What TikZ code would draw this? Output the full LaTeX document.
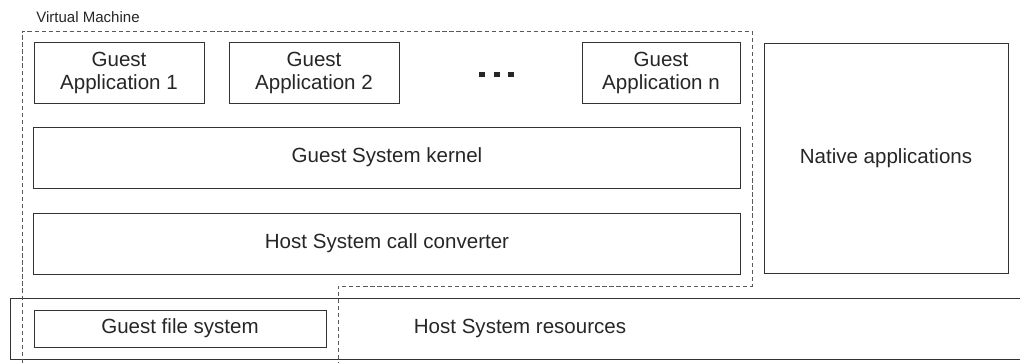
\documentclass[tikz,border=0pt]{standalone}
\usepackage{fontspec}
\setmainfont{Liberation Sans}
\usepackage{tikz}
\tikzstyle{layer} = [
  draw=black!80,
  line width=0.6pt,
  rectangle,
  inner sep=0pt,
  align=center,
  text=black!85,
  font=\fontsize{14.6}{16.4}\selectfont,
]
\tikzstyle{guestapp} = [
  layer,
  minimum width=4.25cm,
  minimum height=1.525cm,
]
\tikzstyle{vmline} = [
  draw=black!65,
  line width=0.6pt,
  dash pattern=on 3pt off 2pt,
]

\begin{document}
\begin{tikzpicture}[
    x=0.025cm,
    y=-0.025cm,
  ]
  \useasboundingbox (0,0) rectangle (1020,363);
  % guest applications
  \node[guestapp] (app1) at (119,72.5) {Guest\\Application 1};
  \node[guestapp] (app2) at (314,72.5) {Guest\\Application 2};
  \node[
    guestapp,
    minimum width=3.95cm,
  ] (appn) at (661,72.5) {Guest\\Application n};
  \foreach \i/\xx in {1/482,2/497,3/511}
    \node[fill=black!85, inner sep=0pt, minimum size=0.14cm]
      (dot\i) at (\xx,74.5) {};
  % guest layers
  \node[
    layer,
    minimum width=17.65cm,
    minimum height=1.525cm,
  ] (kernel) at (387,157.5) {Guest System kernel};
  \node[
    layer,
    minimum width=17.65cm,
    minimum height=1.525cm,
  ] (conv) at (387,243.5) {Host System call converter};
  \node[
    layer,
    minimum width=6.1cm,
    minimum height=5.75cm,
  ] (native) at (886,158) {Native applications};
  % host
  \draw[layer] (1020,298) -| (10,359) -- (1020,359);
  \node[layer, draw=none] (res) at (520,328.5) {Host System resources};
  \node[
    layer,
    minimum width=7.3cm,
    minimum height=0.925cm,
  ] (fsys) at (180,328.5) {Guest file system};
  % virtual machine
  \draw[vmline] (22,363) -- (22,31) -- (752,31) -- (752,286)
    -- (338,286) -- (338,363);
  \node[
    anchor=west,
    inner sep=0pt,
    text=black!85,
    font=\fontsize{10.7}{12}\selectfont,
  ] (vm) at (36,17) {Virtual Machine};
\end{tikzpicture}
\end{document}
